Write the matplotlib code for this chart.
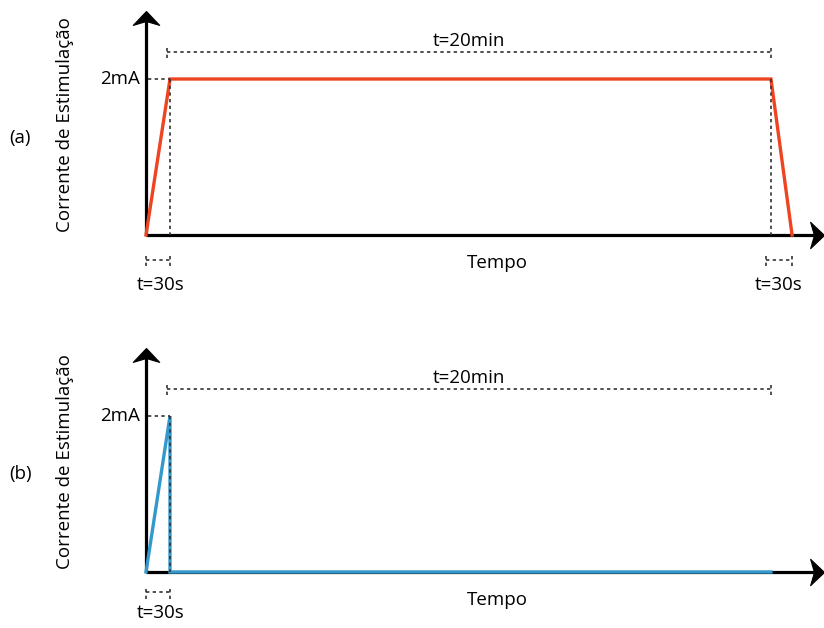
import matplotlib.pyplot as plt
from matplotlib.path import Path

plt.rcParams["font.family"] = ["Open Sans", "DejaVu Sans"]

# schematic time axis (not to scale): ramp = 0.5 units, plateau drawn to 13.02
t_active = [0.0, 0.5, 13.02, 13.46]
i_active = [0.0, 2.0, 2.0, 0.0]
t_sham = [0.0, 0.5, 0.5, 13.02]
i_sham = [0.0, 2.0, 0.0, 0.0]

panel_labels = ["(a)", "(b)"]
ylabel = "Corrente de Estimulação"
xlabel = "Tempo"
level_label = "2mA"
long_label = "t=20min"
ramp_label = "t=30s"

RED = "#EE4422"
BLUE = "#3399CC"
DOT = dict(color="#333333", lw=1.2, ls=(0, (2, 2)))
FS = 13.5

W, H = 824, 628
XMAX = (824 - 146) / 48
YMAX = 224 / 78

# concave arrow head, tip at the origin pointing right
head = [(0, 0), (-1, 0.95), (-0.72, 0), (-1, -0.95), (0, 0)]
HEAD_R = Path(head, [Path.MOVETO] + [Path.LINETO] * 3 + [Path.CLOSEPOLY])
HEAD_U = Path([(-y, x) for x, y in head], HEAD_R.codes)

fig = plt.figure(figsize=(W / 100, H / 100), dpi=100)


def add_panel(base_px, t, cur, color, tag, right_ramp, yr, txt_off):
    ax = fig.add_axes([146 / W, (H - base_px) / H, (W - 146) / W, 224 / H])
    ax.set_xlim(0, XMAX)
    ax.set_ylim(0, YMAX)
    ax.axis("off")

    # axes with arrows
    ax.plot([0, XMAX - 0.2], [0, 0], color="black", lw=2.3, clip_on=False,
            zorder=2, solid_capstyle="butt")
    ax.plot([0, 0], [0, YMAX - 0.12], color="black", lw=2.3, clip_on=False,
            zorder=2, solid_capstyle="butt")
    ax.plot([XMAX], [0], marker=HEAD_R, ms=20, color="black", mew=0.8,
            clip_on=False, zorder=2)
    ax.plot([0], [YMAX], marker=HEAD_U, ms=20, color="black", mew=0.8,
            clip_on=False, zorder=2)

    ax.plot(t, cur, color=color, lw=2.4, clip_on=False, zorder=3,
            solid_joinstyle="miter")

    # dotted guides
    ax.plot([0.04, t[1]], [2, 2], clip_on=False, zorder=4, **DOT)
    ax.plot([t[1], t[1]], [2, 0], clip_on=False, zorder=4, **DOT)
    if right_ramp:
        ax.plot([t[2], t[2]], [2, 0], clip_on=False, zorder=4, **DOT)

    # 20 min bracket
    yb = 2.35
    x0, x1 = 0.4375, 13.02
    ax.plot([x0, x1], [yb, yb], clip_on=False, **DOT)
    for x in (x0, x1):
        ax.plot([x, x], [yb - 0.08, yb + 0.08], clip_on=False, **DOT)
    ax.text((x0 + x1) / 2, yb + 0.14, long_label, ha="center", va="center",
            fontsize=FS)

    # 30 s brackets
    spans = [(0.0, 0.5)]
    if right_ramp:
        spans.append((t[2] - 0.1, t[3]))
    for a, b in spans:
        ax.plot([a, b], [yr, yr], clip_on=False, **DOT)
        for x in (a, b):
            ax.plot([x, x], [yr - 0.08, yr + 0.08], clip_on=False, **DOT)
        ax.text((a + b) / 2 + 0.05 * (a == 0), yr - txt_off, ramp_label,
                ha="center", va="center", fontsize=FS)

    ax.text(7.31, -0.36, xlabel, ha="center", va="center", fontsize=FS)
    ax.text(-0.125, 2, level_label, ha="right", va="center", fontsize=FS)
    ax.text(-1.69, 1.42, ylabel, ha="center", va="center", rotation=90,
            fontsize=FS)
    ax.text(-2.62, 1.25, tag, ha="center", va="center", fontsize=FS)
    return ax


add_panel(235, t_active, i_active, RED, panel_labels[0], True, -0.32, 0.32)
add_panel(572, t_sham, i_sham, BLUE, panel_labels[1], False, -0.26, 0.27)

fig.savefig("out.png", dpi=100)
